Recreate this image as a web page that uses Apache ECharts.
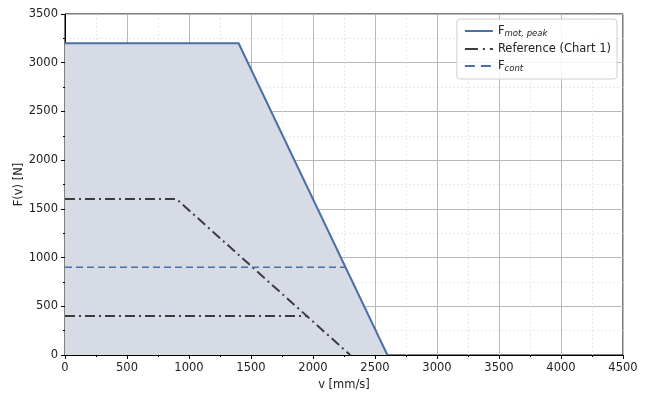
<!DOCTYPE html>
<html><head><meta charset="utf-8">
<script src="https://cdn.jsdelivr.net/npm/echarts@6/dist/echarts.min.js"></script>
<style>html,body{margin:0;padding:0;background:#fff}#c{width:650px;height:400px}</style>
</head><body><div id="c"></div>
<script>
// Data (v in mm/s, F in N)
const peakV = [0, 1400, 2600];
const peakF = [3200, 3200, 0];
const refUpperV = [0, 900, 2300];
const refUpperF = [1600, 1600, 0];
const refLowerV = [0, 1950];
const refLowerF = [400, 400];
const contV = [0, 2262];
const contF = [900, 900];
const xTicks = [0, 500, 1000, 1500, 2000, 2500, 3000, 3500, 4000, 4500];
const yTicks = [0, 500, 1000, 1500, 2000, 2500, 3000, 3500];

const zip = (a, b) => a.map((v, i) => [v, b[i]]);
const blue = '#4c6fa6';
const dark = '#3c3c3c';
const font = 'DejaVu Sans';

const chart = echarts.init(document.getElementById('c'), null, {renderer: 'canvas'});
chart.setOption({
  animation: false,
  textStyle: {fontFamily: font},
  grid: {left: 65, right: 27, top: 14, bottom: 45, show: true, borderColor: '#000', borderWidth: 1,
         backgroundColor: 'transparent', containLabel: false, outerBoundsMode: 'none'},
  legend: {
    orient: 'vertical', right: 33, top: 19,
    backgroundColor: 'rgba(255,255,255,0.85)', borderColor: '#d0d0d0', borderWidth: 1, borderRadius: 3,
    padding: [6, 6, 6, 8], itemGap: 5, itemWidth: 28, itemHeight: 12,
    textStyle: {fontFamily: font, fontSize: 11.5, color: '#222',
      rich: {
        b: {fontFamily: font, fontSize: 11.5, color: '#222'},
        s: {fontFamily: font, fontSize: 8.5, fontStyle: 'italic', color: '#222', padding: [5, 0, 0, 0]}
      }},
    formatter: function (n) {
      if (n === 'Fpeak') return '{b|F}{s|mot, peak}';
      if (n === 'Fcont') return '{b|F}{s|cont}';
      return '{b|' + n + '}';
    },
    data: [{name: 'Fpeak', icon: 'path://M0,0H28V2H0Z'},
           {name: 'Reference (Chart 1)', icon: 'path://M0,0H13V2H0Z M18,0H20V2H18Z M25,0H28V2H25Z'},
           {name: 'Fcont', icon: 'path://M0,0H10V2H0Z M16,0H26V2H16Z M28,0H28V2H28Z'}]
  },
  xAxis: {
    type: 'value', min: 0, max: 4500, interval: 500,
    name: 'v [mm/s]', nameLocation: 'middle', nameGap: 24, nameMoveOverlap: false,
    nameTextStyle: {fontFamily: font, fontSize: 11.5, color: '#222'},
    axisLine: {lineStyle: {color: '#000', width: 1}},
    axisTick: {show: true, length: 4, lineStyle: {color: '#000'}},
    minorTick: {show: true, splitNumber: 2, length: 2, lineStyle: {color: '#000'}},
    axisLabel: {fontFamily: font, fontSize: 11.5, color: '#222', margin: 7,
      formatter: v => xTicks.includes(v) ? String(v) : ''},
    splitLine: {show: true, lineStyle: {color: '#b8b8b8', width: 1}},
    minorSplitLine: {show: true, lineStyle: {color: '#e4e4e4', width: 0.8, type: [2, 2]}}
  },
  yAxis: {
    type: 'value', min: 0, max: 3500, interval: 500,
    name: 'F(v) [N]', nameLocation: 'middle', nameGap: 40, nameRotate: 90, nameMoveOverlap: false,
    nameTextStyle: {fontFamily: font, fontSize: 11.5, color: '#222'},
    axisLine: {show: true, lineStyle: {color: '#000', width: 1}},
    axisTick: {show: true, length: 4, lineStyle: {color: '#000'}},
    minorTick: {show: true, splitNumber: 2, length: 2, lineStyle: {color: '#000'}},
    axisLabel: {fontFamily: font, fontSize: 11.5, color: '#222', margin: 7,
      formatter: v => yTicks.includes(v) ? String(v) : ''},
    splitLine: {show: true, lineStyle: {color: '#b8b8b8', width: 1}},
    minorSplitLine: {show: true, lineStyle: {color: '#e4e4e4', width: 0.8, type: [2, 2]}}
  },
  series: [
    {name: 'Fpeak', type: 'line', data: zip(peakV, peakF), showSymbol: false, symbol: 'none', z: 3,
     color: blue, lineStyle: {color: blue, width: 2},
     areaStyle: {color: '#d6dbe6', opacity: 1, origin: 'start'}},
    {name: 'Reference (Chart 1)', type: 'line', data: zip(refUpperV, refUpperF), showSymbol: false, symbol: 'none', z: 4,
     color: dark, lineStyle: {color: dark, width: 2, type: [10, 4, 2, 4]}},
    {name: 'Reference (Chart 1)', type: 'line', data: zip(refLowerV, refLowerF), showSymbol: false, symbol: 'none', z: 4,
     color: dark, lineStyle: {color: dark, width: 2, type: [10, 4, 2, 4]}},
    {name: 'Fcont', type: 'line', data: zip(contV, contF), showSymbol: false, symbol: 'none', z: 4,
     color: blue, lineStyle: {color: blue, width: 1.6, type: [7, 4]}}
  ]
});
</script></body></html>
